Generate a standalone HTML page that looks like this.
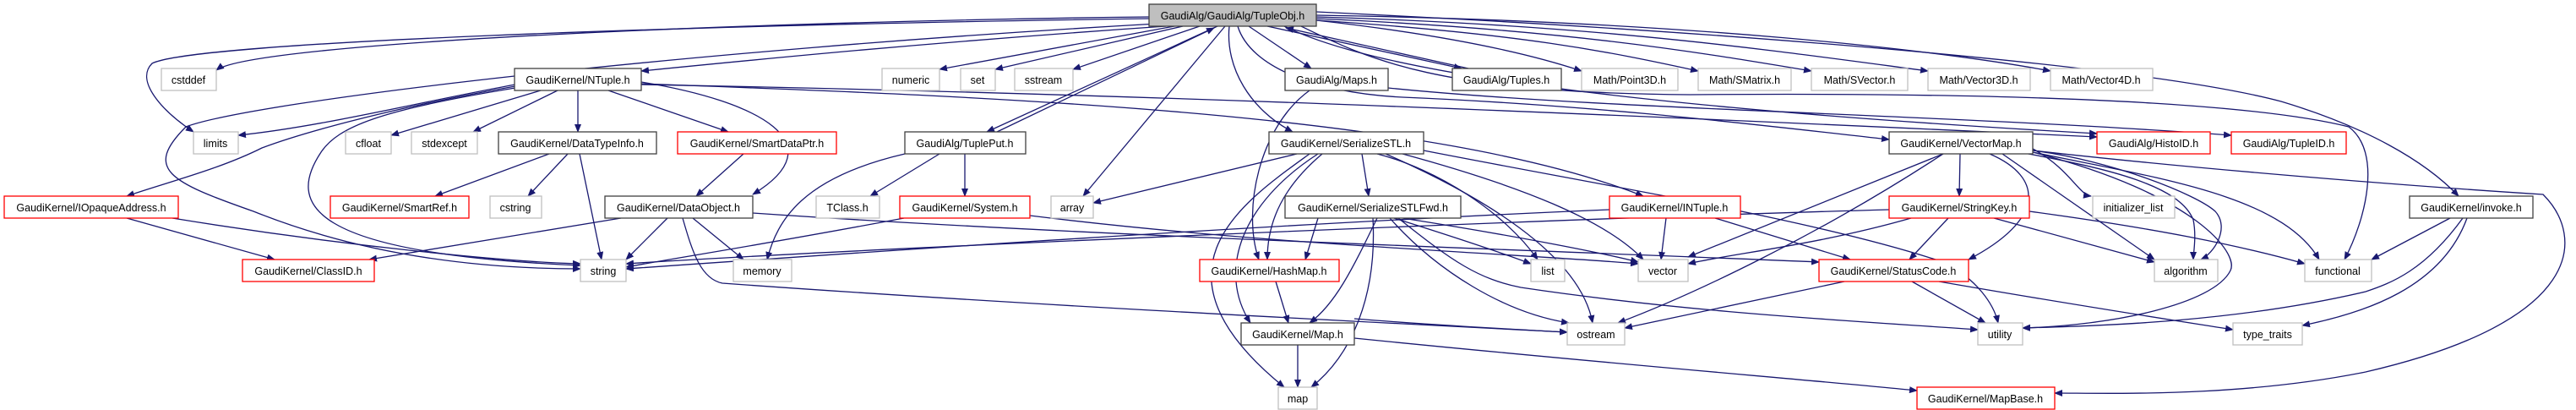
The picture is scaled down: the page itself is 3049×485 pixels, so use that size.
<!DOCTYPE html>
<html><head><meta charset="utf-8"><style>
html,body{margin:0;padding:0;background:#fff;}
svg{display:block;}
text{font-family:"Liberation Sans",sans-serif;font-size:12.5px;fill:#000;text-anchor:middle;}
.e{fill:none;stroke:#191970;stroke-width:1.3;marker-end:url(#a);}
.k{fill:#fff;stroke:#404040;stroke-width:1.3;}
.r{fill:#fff;stroke:#ff0000;stroke-width:1.3;}
.g{fill:#fff;stroke:#bfbfbf;stroke-width:1.3;}
</style></head><body>
<svg width="3049" height="485" viewBox="0 0 3049 485" xmlns="http://www.w3.org/2000/svg">
<defs><marker id="a" markerWidth="10" markerHeight="8" refX="9" refY="4" orient="auto" markerUnits="userSpaceOnUse"><path d="M0,0 L10,4 L0,8 z" fill="#191970"/></marker></defs>
<!-- edges from TupleObj -->
<path class="e" d="M1360,20 C900,25 300,50 256,83"/>
<path class="e" d="M1360,22 C800,30 230,50 180,75 C160,95 190,130 229,156"/>
<path class="e" d="M1380,31 C1100,50 900,70 759,84"/>
<path class="e" d="M1370,28 C800,60 300,120 220,150 C170,200 200,215 300,250 C450,310 600,318 687,318"/>
<path class="e" d="M1390,31 L1112,82"/>
<path class="e" d="M1400,31 L1178,82"/>
<path class="e" d="M1420,31 L1270,82"/>
<path class="e" d="M1441,31 L1168,156"/>
<path class="e" d="M1180,156 L1437,33"/>
<path class="e" d="M1450,31 L1282,232"/>
<path class="e" d="M1478,31 L1552,81"/>
<path class="e" d="M1500,31 L1730,81"/>
<path class="e" d="M1738,81 L1522,33"/>
<path class="e" d="M1558,24 C1700,40 1800,60 1872,84"/>
<path class="e" d="M1558,24 C1800,40 1900,60 2010,84"/>
<path class="e" d="M1558,22 C1850,35 2000,60 2144,84"/>
<path class="e" d="M1558,20 C1900,30 2100,60 2282,84"/>
<path class="e" d="M1558,18 C2000,25 2300,60 2427,84"/>
<path class="e" d="M1455,31 C1450,80 1480,130 1530,156"/>
<path class="e" d="M1465,31 C1480,80 1560,110 1660,115 C1900,125 2100,150 2236,165"/>
<path class="e" d="M1540,31 C1620,70 1700,110 2000,112 C2500,108 2700,130 2780,150 C2820,180 2800,260 2775,307"/>
<path class="e" d="M1558,14 C2100,40 2550,80 2700,120 C2800,150 2870,190 2910,232"/>
<path class="e" d="M1520,31 C1600,70 1800,120 2482,158"/>
<!-- NTuple -->
<path class="e" d="M610,100 C500,120 380,150 282,160"/>
<path class="e" d="M640,107 L463,160"/>
<path class="e" d="M660,107 L560,156"/>
<path class="e" d="M684,107 L684,156"/>
<path class="e" d="M720,107 L862,156"/>
<path class="e" d="M610,102 C450,130 350,160 310,175 C260,200 200,215 150,232"/>
<path class="e" d="M759,97 C900,120 990,170 891,230"/>
<path class="e" d="M610,104 C450,130 400,150 380,180 C340,240 360,300 687,314"/>
<path class="e" d="M759,99 C1200,115 1700,135 1945,232"/>
<path class="e" d="M759,100 C1300,110 1800,130 2482,162"/>
<!-- DataTypeInfo -->
<path class="e" d="M650,182 L515,232"/>
<path class="e" d="M672,182 L625,232"/>
<path class="e" d="M686,182 L712,307"/>
<!-- SmartDataPtr -->
<path class="e" d="M880,182 L824,232"/>
<!-- IOpaqueAddress -->
<path class="e" d="M150,258 L325,307"/>
<path class="e" d="M204,258 C400,290 600,310 687,312"/>
<!-- DataObject -->
<path class="e" d="M735,258 L437,307"/>
<path class="e" d="M790,258 L741,307"/>
<path class="e" d="M820,258 L880,307"/>
<path class="e" d="M891,252 C1300,280 1800,295 2153,310"/>
<path class="e" d="M808,258 C820,300 830,330 855,335 C1200,360 1600,380 1855,393"/>
<!-- TuplePut -->
<path class="e" d="M1071,182 C950,210 920,260 908,307"/>
<path class="e" d="M1112,182 L1030,232"/>
<path class="e" d="M1142,182 L1142,232"/>
<!-- System -->
<path class="e" d="M1070,258 C900,290 800,305 741,316"/>
<path class="e" d="M1219,255 C1500,290 1800,300 1939,312"/>
<!-- Maps -->
<path class="e" d="M1550,107 C1490,150 1470,250 1490,307"/>
<path class="e" d="M1643,104 C1900,130 2300,135 2641,160"/>
<!-- SerializeSTL -->
<path class="e" d="M1535,182 L1294,240"/>
<path class="e" d="M1612,182 L1620,232"/>
<path class="e" d="M1565,182 C1520,220 1500,260 1500,307"/>
<path class="e" d="M1560,182 C1470,240 1440,320 1480,382"/>
<path class="e" d="M1550,182 C1470,240 1350,320 1520,458"/>
<path class="e" d="M1630,182 C1700,200 1780,250 1820,307"/>
<path class="e" d="M1660,182 C1800,220 1900,260 1945,307"/>
<path class="e" d="M1640,182 C1750,230 1870,300 1885,382"/>
<path class="e" d="M1685,178 C1900,220 2150,260 2300,310 C2340,330 2360,360 2365,382"/>
<!-- SerializeSTLFwd -->
<path class="e" d="M1560,258 L1545,307"/>
<path class="e" d="M1630,258 C1600,320 1580,360 1550,382"/>
<path class="e" d="M1625,258 C1630,350 1600,420 1552,458"/>
<path class="e" d="M1650,258 C1720,280 1780,300 1812,312"/>
<path class="e" d="M1660,258 C1800,280 1900,300 1939,310"/>
<path class="e" d="M1645,258 C1700,320 1780,370 1857,382"/>
<path class="e" d="M1655,258 C1720,310 1750,330 1800,340 C2000,370 2200,380 2341,390"/>
<!-- INTuple -->
<path class="e" d="M1905,248 C1500,265 1000,300 741,318"/>
<path class="e" d="M1972,258 L1966,307"/>
<path class="e" d="M2030,258 L2190,307"/>
<!-- VectorMap -->
<path class="e" d="M2300,182 L1998,304"/>
<path class="e" d="M2300,182 C2150,280 2000,350 1915,382"/>
<path class="e" d="M2320,182 L2319,232"/>
<path class="e" d="M2355,182 C2420,210 2420,260 2330,307"/>
<path class="e" d="M2370,182 L2550,307"/>
<path class="e" d="M2390,180 C2500,200 2580,220 2596,260 C2600,280 2596,300 2596,307"/>
<path class="e" d="M2406,178 C2500,190 2600,230 2622,250 C2640,270 2620,300 2605,307"/>
<path class="e" d="M2406,180 C2550,210 2700,230 2745,307"/>
<path class="e" d="M2406,176 C2450,200 2460,230 2475,232"/>
<path class="e" d="M2406,178 C2600,200 2850,220 3010,230 C3060,280 3060,380 2800,440 C2650,470 2500,465 2432,465"/>
<path class="e" d="M2406,180 C2600,230 2650,300 2640,320 C2620,360 2500,385 2394,388"/>
<!-- StringKey -->
<path class="e" d="M2236,248 C1800,260 1000,295 741,312"/>
<path class="e" d="M2262,258 C2150,290 2050,300 1998,312"/>
<path class="e" d="M2306,258 L2260,307"/>
<path class="e" d="M2360,258 L2550,310"/>
<path class="e" d="M2402,250 C2550,270 2650,290 2728,312"/>
<!-- StatusCode -->
<path class="e" d="M2183,333 L1923,388"/>
<path class="e" d="M2263,333 L2350,382"/>
<path class="e" d="M2295,333 C2450,360 2580,380 2643,390"/>
<!-- Map.h -->
<path class="e" d="M1536,408 L1536,458"/>
<path class="e" d="M1603,400 C1900,430 2150,450 2269,462"/>
<path class="e" d="M1603,377 C1700,385 1800,390 1855,393"/>
<!-- HashMap -->
<path class="e" d="M1510,333 L1525,382"/>
<!-- invoke -->
<path class="e" d="M2900,258 L2807,307"/>
<path class="e" d="M2915,258 C2870,320 2830,335 2800,345 C2650,380 2500,385 2394,388"/>
<path class="e" d="M2920,258 C2890,340 2800,370 2725,385"/>
<!-- nodes -->
<rect x="1360" y="5" width="198" height="26" fill="#bfbfbf" stroke="#404040" stroke-width="1.3"/><text x="1459" y="23">GaudiAlg/GaudiAlg/TupleObj.h</text>
<rect class="g" x="191" y="81" width="65" height="26"/><text x="223" y="99">cstddef</text>
<rect class="k" x="609" y="81" width="150" height="26"/><text x="684" y="99">GaudiKernel/NTuple.h</text>
<rect class="g" x="1044" y="81" width="68" height="26"/><text x="1078" y="99">numeric</text>
<rect class="g" x="1137" y="81" width="41" height="26"/><text x="1157" y="99">set</text>
<rect class="g" x="1201" y="81" width="69" height="26"/><text x="1235" y="99">sstream</text>
<rect class="k" x="1521" y="81" width="122" height="26"/><text x="1582" y="99">GaudiAlg/Maps.h</text>
<rect class="k" x="1719" y="81" width="129" height="26"/><text x="1783" y="99">GaudiAlg/Tuples.h</text>
<rect class="g" x="1872" y="81" width="114" height="26"/><text x="1929" y="99">Math/Point3D.h</text>
<rect class="g" x="2010" y="81" width="110" height="26"/><text x="2065" y="99">Math/SMatrix.h</text>
<rect class="g" x="2144" y="81" width="114" height="26"/><text x="2201" y="99">Math/SVector.h</text>
<rect class="g" x="2282" y="81" width="121" height="26"/><text x="2342" y="99">Math/Vector3D.h</text>
<rect class="g" x="2427" y="81" width="121" height="26"/><text x="2487" y="99">Math/Vector4D.h</text>
<rect class="g" x="229" y="156" width="53" height="26"/><text x="255" y="174">limits</text>
<rect class="g" x="409" y="156" width="54" height="26"/><text x="436" y="174">cfloat</text>
<rect class="g" x="487" y="156" width="78" height="26"/><text x="526" y="174">stdexcept</text>
<rect class="k" x="590" y="156" width="187" height="26"/><text x="683" y="174">GaudiKernel/DataTypeInfo.h</text>
<rect class="r" x="802" y="156" width="188" height="26"/><text x="896" y="174">GaudiKernel/SmartDataPtr.h</text>
<rect class="k" x="1071" y="156" width="143" height="26"/><text x="1142" y="174">GaudiAlg/TuplePut.h</text>
<rect class="k" x="1502" y="156" width="183" height="26"/><text x="1593" y="174">GaudiKernel/SerializeSTL.h</text>
<rect class="k" x="2236" y="156" width="170" height="26"/><text x="2321" y="174">GaudiKernel/VectorMap.h</text>
<rect class="r" x="2482" y="156" width="134" height="26"/><text x="2549" y="174">GaudiAlg/HistoID.h</text>
<rect class="r" x="2641" y="156" width="136" height="26"/><text x="2709" y="174">GaudiAlg/TupleID.h</text>
<rect class="r" x="5" y="232" width="206" height="26"/><text x="108" y="250">GaudiKernel/IOpaqueAddress.h</text>
<rect class="r" x="391" y="232" width="164" height="26"/><text x="473" y="250">GaudiKernel/SmartRef.h</text>
<rect class="g" x="580" y="232" width="61" height="26"/><text x="610" y="250">cstring</text>
<rect class="k" x="716" y="232" width="175" height="26"/><text x="803" y="250">GaudiKernel/DataObject.h</text>
<rect class="g" x="966" y="232" width="75" height="26"/><text x="1003" y="250">TClass.h</text>
<rect class="r" x="1065" y="232" width="154" height="26"/><text x="1142" y="250">GaudiKernel/System.h</text>
<rect class="g" x="1244" y="232" width="50" height="26"/><text x="1269" y="250">array</text>
<rect class="k" x="1521" y="232" width="208" height="26"/><text x="1625" y="250">GaudiKernel/SerializeSTLFwd.h</text>
<rect class="r" x="1905" y="232" width="155" height="26"/><text x="1982" y="250">GaudiKernel/INTuple.h</text>
<rect class="r" x="2236" y="232" width="166" height="26"/><text x="2319" y="250">GaudiKernel/StringKey.h</text>
<rect class="g" x="2477" y="232" width="97" height="26"/><text x="2525" y="250">initializer_list</text>
<rect class="k" x="2852" y="232" width="146" height="26"/><text x="2925" y="250">GaudiKernel/invoke.h</text>
<rect class="r" x="287" y="307" width="156" height="26"/><text x="365" y="325">GaudiKernel/ClassID.h</text>
<rect class="g" x="687" y="307" width="54" height="26"/><text x="714" y="325">string</text>
<rect class="g" x="868" y="307" width="69" height="26"/><text x="902" y="325">memory</text>
<rect class="r" x="1420" y="307" width="165" height="26"/><text x="1502" y="325">GaudiKernel/HashMap.h</text>
<rect class="g" x="1812" y="307" width="40" height="26"/><text x="1832" y="325">list</text>
<rect class="g" x="1939" y="307" width="59" height="26"/><text x="1968" y="325">vector</text>
<rect class="r" x="2153" y="307" width="177" height="26"/><text x="2241" y="325">GaudiKernel/StatusCode.h</text>
<rect class="g" x="2550" y="307" width="75" height="26"/><text x="2587" y="325">algorithm</text>
<rect class="g" x="2728" y="307" width="79" height="26"/><text x="2767" y="325">functional</text>
<rect class="k" x="1469" y="382" width="134" height="26"/><text x="1536" y="400">GaudiKernel/Map.h</text>
<rect class="g" x="1855" y="382" width="68" height="26"/><text x="1889" y="400">ostream</text>
<rect class="g" x="2341" y="382" width="53" height="26"/><text x="2367" y="400">utility</text>
<rect class="g" x="2643" y="382" width="82" height="26"/><text x="2684" y="400">type_traits</text>
<rect class="g" x="1513" y="458" width="46" height="26"/><text x="1536" y="476">map</text>
<rect class="r" x="2269" y="458" width="163" height="26"/><text x="2350" y="476">GaudiKernel/MapBase.h</text>
</svg>
</body></html>
